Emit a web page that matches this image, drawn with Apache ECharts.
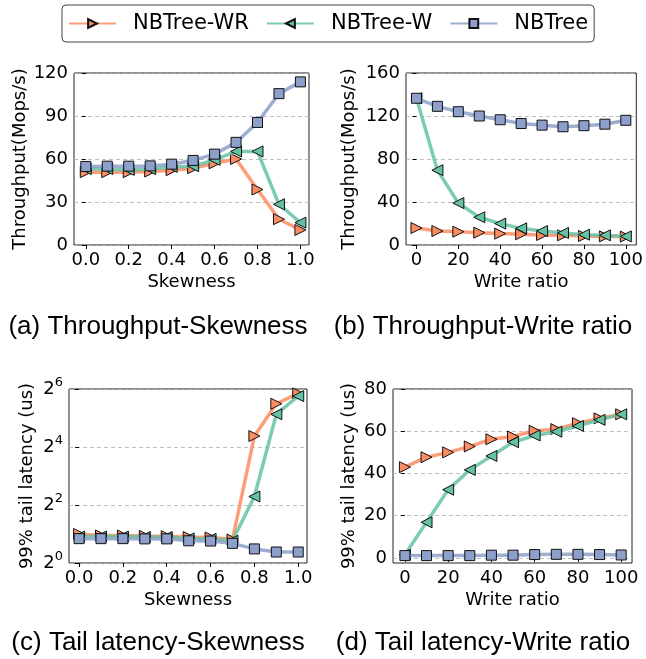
<!DOCTYPE html>
<html>
<head>
<meta charset="utf-8">
<script src="https://cdn.jsdelivr.net/npm/echarts@6/dist/echarts.min.js"></script>
<style>
  html, body { margin: 0; padding: 0; background: #fff; }
  #chart { width: 646px; height: 659px; }
</style>
</head>
<body>
<div id="chart"></div>
<script>
// data
const seriesNames = ['NBTree-WR', 'NBTree-W', 'NBTree'];
const skewness = [0.0, 0.1, 0.2, 0.3, 0.4, 0.5, 0.6, 0.7, 0.8, 0.9, 1.0];
const writeRatio = [0, 10, 20, 30, 40, 50, 60, 70, 80, 90, 100];

// (a) throughput vs skewness
const tputSkewWR = [50.8, 50.8, 50.8, 51.3, 52.2, 53.6, 57.0, 60.0, 38.7, 18.0, 10.5];
const tputSkewW = [53.0, 53.0, 52.4, 53.0, 54.5, 55.0, 59.4, 65.3, 65.3, 28.4, 15.6];
const tputSkewNB = [54.8, 55.0, 55.0, 55.2, 56.4, 59.0, 63.4, 71.6, 85.5, 105.6, 113.8];

// (b) throughput vs write ratio
const tputWriteWR = [15.8, 13.0, 12.4, 11.5, 10.6, 10.0, 9.3, 9.0, 8.4, 8.0, 7.8];
const tputWriteW = [136.5, 69.6, 39.0, 25.8, 19.9, 15.5, 13.0, 11.2, 9.6, 9.0, 8.0];
const tputWriteNB = [136.5, 129.0, 124.0, 120.0, 116.5, 113.0, 111.5, 110.0, 111.0, 112.4, 116.0];

// (c) 99% tail latency vs skewness (log2 axis)
const latSkewWR = [2.0, 1.93, 1.93, 1.91, 1.9, 1.86, 1.84, 1.75, 20.8, 45.0, 57.6];
const latSkewW = [1.88, 1.88, 1.88, 1.86, 1.86, 1.8, 1.78, 1.7, 4.9, 35.0, 54.0];
const latSkewNB = [1.79, 1.79, 1.79, 1.78, 1.78, 1.7, 1.69, 1.6, 1.4, 1.3, 1.3];

// (d) 99% tail latency vs write ratio
const latWriteWR = [43.0, 47.7, 50.0, 52.8, 56.2, 57.5, 60.2, 61.0, 63.8, 66.1, 68.0];
const latWriteW = [1.5, 16.9, 32.3, 41.7, 48.3, 54.8, 58.0, 59.8, 62.5, 65.4, 68.0];
const latWriteNB = [1.1, 1.1, 1.1, 1.1, 1.3, 1.3, 1.6, 1.7, 1.7, 1.6, 1.4];

const skewTicks = [0, 0.2, 0.4, 0.6, 0.8, 1.0];
const writeTicks = [0, 20, 40, 60, 80, 100];
const latLogTicks = [1, 4, 16, 64];
const latLogExps = ['0', '2', '4', '6'];
const latWriteTicks = [0, 20, 40, 60, 80];

const captions = [
  '(a) Throughput-Skewness',
  '(b) Throughput-Write ratio',
  '(c) Tail latency-Skewness',
  '(d) Tail latency-Write ratio'
];

const colors = ['#fc8d62', '#66c2a5', '#8da0cb'];
const symbols = ['triangle', 'triangle', 'rect'];
const rotates = [-90, 90, 0];
const FONT = 'DejaVu Sans';

const myCharts = echarts.init(document.getElementById('chart'));

const pairs = (xs, ys) => xs.map((x, i) => [x, ys[i]]);

function makeSeries(idx, xs, ysList) {
  return ysList.map((ys, k) => ({
    type: 'line',
    name: seriesNames[k],
    xAxisIndex: idx,
    yAxisIndex: idx,
    data: pairs(xs, ys),
    symbol: symbols[k],
    symbolRotate: rotates[k],
    symbolSize: k === 2 ? 10 : 11,
    lineStyle: { width: 3.5, color: colors[k], opacity: 0.85 },
    itemStyle: { color: colors[k], borderColor: '#111', borderWidth: 1 },
    z: 2 + k
  }));
}

const tickLabel = { color: '#000', fontSize: 18, fontFamily: FONT, margin: 6 };
const tick = { show: true, length: 4, lineStyle: { color: '#000' } };
const split = { show: true, lineStyle: { color: '#b0b0b0', type: [4, 3], width: 0.8 } };

function xAxis(idx, min, max, ticks, name, fmt) {
  return {
    type: 'value', gridIndex: idx, min: min, max: max,
    name: name, nameLocation: 'middle', nameGap: 28,
    nameTextStyle: { color: '#000', fontSize: 18, fontFamily: FONT },
    axisLine: { show: false },
    axisTick: Object.assign({ customValues: ticks }, tick),
    axisLabel: Object.assign({ customValues: ticks, formatter: fmt }, tickLabel),
    splitLine: { show: false }
  };
}

function yAxis(idx, opts, name, gap) {
  return Object.assign({
    gridIndex: idx,
    name: name, nameLocation: 'middle', nameGap: gap,
    nameTextStyle: { color: '#000', fontSize: 18, fontFamily: FONT },
    axisLine: { show: false },
    axisTick: tick,
    axisLabel: tickLabel,
    splitLine: split
  }, opts);
}

const gridBox = { show: true, borderColor: '#222', borderWidth: 1, backgroundColor: 'transparent' };

myCharts.setOption({
  animation: false,
  backgroundColor: '#fff',
  legend: {
    data: seriesNames,
    left: 62, top: 5,
    padding: [8, 6, 8, 6],
    itemWidth: 47, itemHeight: 11, itemGap: 17,
    borderColor: '#444', borderWidth: 1, borderRadius: 4,
    textStyle: { color: '#000', fontSize: 21, fontFamily: FONT, padding: [0, 0, 0, 12] }
  },
  title: captions.map((t, i) => ({
    text: t,
    left: i % 2 === 0 ? 158 : 483,
    top: i < 2 ? 314 : 630,
    padding: 0,
    textAlign: 'center',
    textStyle: { color: '#000', fontSize: 26, fontWeight: 'normal', fontFamily: 'Liberation Sans' }
  })),
  grid: [
    Object.assign({ left: 74, right: 337, top: 73, bottom: 414 }, gridBox),
    Object.assign({ left: 406, right: 7, top: 73, bottom: 414 }, gridBox),
    Object.assign({ left: 69, right: 339, top: 389, bottom: 96 }, gridBox),
    Object.assign({ left: 393, right: 14, top: 389, bottom: 96 }, gridBox)
  ],
  xAxis: [
    xAxis(0, -0.055, 1.04, skewTicks, 'Skewness', v => v.toFixed(1)),
    xAxis(1, -5, 105, writeTicks, 'Write ratio', v => String(v)),
    xAxis(2, -0.046, 1.04, skewTicks, 'Skewness', v => v.toFixed(1)),
    xAxis(3, -5.5, 105, writeTicks, 'Write ratio', v => String(v))
  ],
  yAxis: [
    yAxis(0, { type: 'value', min: 0, max: 120, interval: 30 }, 'Throughput(Mops/s)', 44),
    yAxis(1, { type: 'value', min: 0, max: 160, interval: 40 }, 'Throughput(Mops/s)', 48),
    yAxis(2, {
      type: 'log', logBase: 2, min: 1, max: 64,
      axisTick: Object.assign({ customValues: latLogTicks }, tick),
      axisLabel: Object.assign({
        customValues: latLogTicks,
        formatter: v => {
          const i = latLogTicks.indexOf(Math.round(v));
          return i < 0 ? '' : '{b|2}{sup|' + latLogExps[i] + '}';
        },
        rich: {
          b: { fontSize: 18, fontFamily: FONT, color: '#000', lineHeight: 18 },
          sup: { fontSize: 13, fontFamily: FONT, color: '#000', lineHeight: 14, padding: [0, 0, 12, 0] }
        }
      }, tickLabel),
      minorTick: { show: false }
    }, '99% tail latency (us)', 33),
    yAxis(3, {
      type: 'value', min: -2.4, max: 80,
      axisTick: Object.assign({ customValues: latWriteTicks }, tick),
      axisLabel: Object.assign({ customValues: latWriteTicks }, tickLabel)
    }, '99% tail latency (us)', 35)
  ],
  series: [].concat(
    makeSeries(0, skewness, [tputSkewWR, tputSkewW, tputSkewNB]),
    makeSeries(1, writeRatio, [tputWriteWR, tputWriteW, tputWriteNB]),
    makeSeries(2, skewness, [latSkewWR, latSkewW, latSkewNB]),
    makeSeries(3, writeRatio, [latWriteWR, latWriteW, latWriteNB])
  )
});
</script>
</body>
</html>
